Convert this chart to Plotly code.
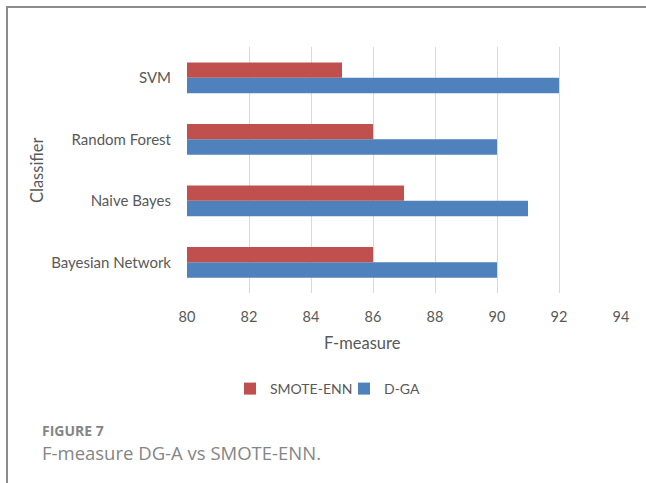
import plotly.graph_objects as go

# Classifiers, listed bottom to top as they appear on the category axis
classifiers = ["Bayesian Network", "Naive Bayes", "Random Forest", "SVM"]
smote_enn = [86, 87, 86, 85]
d_ga = [90, 91, 90, 92]
x_ticks = [80, 82, 84, 86, 88, 90, 92, 94]

W, H = 646, 483
L, R, T, B = 187, 25, 47, 190
PW, PH = W - L - R, H - T - B


def px(x):
    return (x - L) / PW


def py(y):
    return (H - B - y) / PH


TXT = "#595959"
FONT = "Lato, 'Open Sans', sans-serif"
CAP = "#858585"

fig = go.Figure()
# D-GA first so it sits below SMOTE-ENN inside each group
fig.add_trace(go.Bar(y=classifiers, x=d_ga, orientation="h", name="D-GA",
                     marker=dict(color="#4F81BD", line=dict(width=0)), base=0))
fig.add_trace(go.Bar(y=classifiers, x=smote_enn, orientation="h", name="SMOTE-ENN",
                     marker=dict(color="#C0504D", line=dict(width=0)), base=0))

fig.update_layout(
    width=W, height=H,
    margin=dict(l=L, r=R, t=T, b=B),
    paper_bgcolor="white", plot_bgcolor="white",
    barmode="group", bargap=0.5, bargroupgap=0,
    font=dict(family=FONT, size=14, color=TXT),
    showlegend=True,
    legend=dict(orientation="h", traceorder="reversed",
                x=px(230), xanchor="left", y=py(389), yanchor="middle",
                font=dict(size=14, color=TXT), itemwidth=30,
                entrywidth=69, entrywidthmode="pixels",
                bgcolor="rgba(0,0,0,0)"),
    xaxis=dict(range=[80, 94], tickvals=x_ticks, showgrid=True,
               gridcolor="#D9D9D9", gridwidth=1, zeroline=False,
               showline=False, ticks="", ticklabelstandoff=13,
               tickfont=dict(size=14.5, color=TXT)),
    yaxis=dict(categoryorder="array", categoryarray=classifiers,
               showgrid=False, zeroline=False, showline=False, ticks="",
               ticklabelstandoff=15, tickfont=dict(size=15, color=TXT)),
)

annotations = [
    dict(text="F-measure", x=px(362), y=py(343), showarrow=False,
         font=dict(size=16.5, color=TXT)),
    dict(text="Classifier", x=px(37), y=py(170), showarrow=False, textangle=-90,
         font=dict(size=16.5, color=TXT)),
    dict(text="<b>FIGURE 7</b>", x=px(40), y=py(430), xanchor="left", showarrow=False,
         font=dict(size=14, color=CAP, family="'Open Sans', Lato, sans-serif")),
    dict(text="F-measure DG-A vs SMOTE-ENN.", x=px(40), y=py(452), xanchor="left",
         showarrow=False,
         font=dict(size=18.5, color=CAP, family="'Open Sans', Lato, sans-serif")),
]
for a in annotations:
    a.update(xref="paper", yref="paper", yanchor="middle")
    a.setdefault("xanchor", "center")
fig.update_layout(annotations=annotations)

# Page frame: rule across the top and down the left side
frame = dict(color="#8C8C8C", width=2)
fig.add_shape(type="line", xref="paper", yref="paper",
              x0=px(6), x1=px(646), y0=py(7), y1=py(7), line=frame)
fig.add_shape(type="line", xref="paper", yref="paper",
              x0=px(7), x1=px(7), y0=py(6), y1=py(483), line=frame)

fig.write_html("out.html")
